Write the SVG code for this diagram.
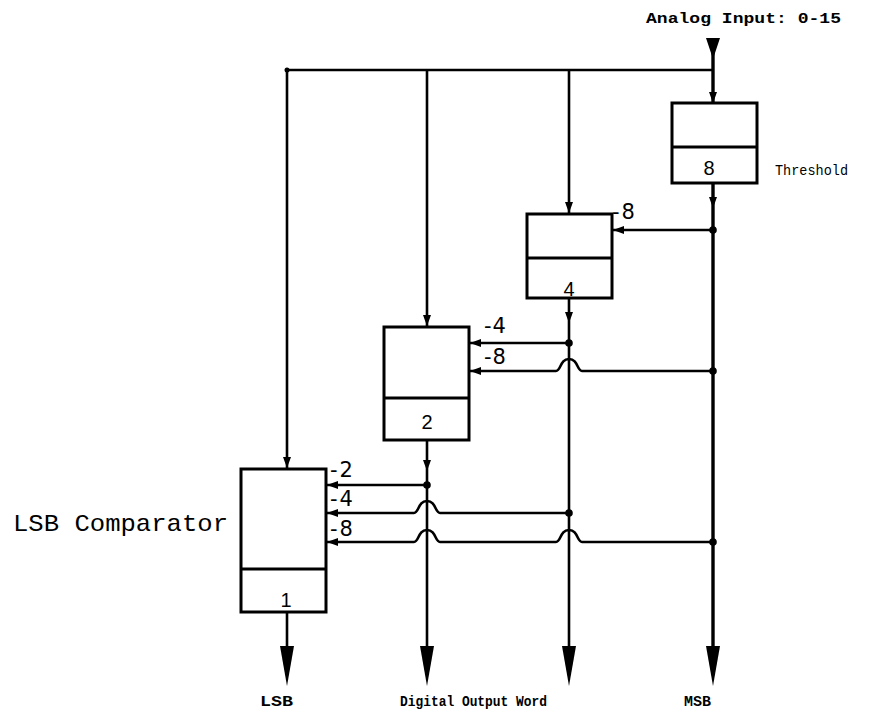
<svg xmlns="http://www.w3.org/2000/svg" width="877" height="712" viewBox="0 0 877 712">
<defs>
<style>
.box{fill:#fff;stroke:#000;stroke-width:3}
.ln{fill:none;stroke:#000;stroke-width:2.6;stroke-linejoin:round}
.thk{stroke-width:3.4}
.ah{fill:#000}
.dot{fill:#000}
.num{font-family:"Liberation Sans","DejaVu Sans",sans-serif;font-size:20px;fill:#000}
.lbl{font-family:"DejaVu Sans","Liberation Sans",sans-serif;font-size:21px;fill:#000}
.mono{font-family:"Liberation Mono","DejaVu Sans Mono",monospace;font-weight:bold;font-size:14px;fill:#000}
.thr{font-family:"Liberation Mono","DejaVu Sans Mono",monospace;font-size:15px;fill:#000}
.big{font-family:"Liberation Mono","DejaVu Sans Mono",monospace;font-size:24px;fill:#000}
</style>
<path id="ad" d="M0,0 L-4,-11 L4,-11 Z"/>
<path id="al" d="M0,0 L11,-4 L11,4 Z"/>
<path id="abig" d="M0,0 L-7,-40 L7,-40 Z"/>
</defs>

<g id="connectors">
  <path class="ln" d="M287,70 L713,70"/>
  <path class="ln thk" d="M713,38 L713,103"/>
  <path class="ah" d="M713,59 L706,38 L720,38 Z"/>
  <use href="#ad" x="713" y="103"/>
  <path class="ln" d="M287,70 L287,469"/>
  <use href="#ad" x="287" y="468"/>
  <path class="ln" d="M427,70 L427,327"/>
  <use href="#ad" x="427" y="326"/>
  <path class="ln" d="M569,70 L569,214"/>
  <use href="#ad" x="569" y="213"/>
  <circle class="dot" cx="287" cy="70" r="2.5"/>

  <path class="ln thk" d="M713,183 L713,648"/>
  <use href="#ad" x="713" y="208"/>
  <use href="#abig" x="713" y="686"/>
  <path class="ln" d="M569,298 L569,648"/>
  <use href="#ad" x="569" y="323"/>
  <use href="#abig" x="569" y="686"/>
  <path class="ln" d="M427,440 L427,648"/>
  <use href="#ad" x="427" y="471"/>
  <use href="#abig" x="427" y="686"/>
  <path class="ln" d="M287,612 L287,648"/>
  <use href="#abig" x="287" y="686"/>

  <path class="ln" d="M713,230 L613,230"/>
  <use href="#al" x="613" y="230"/>
  <circle class="dot" cx="713" cy="230" r="3.8"/>

  <path class="ln" d="M569,343 L470,343"/>
  <use href="#al" x="470" y="343"/>
  <circle class="dot" cx="569" cy="343" r="3.8"/>
  <path class="ln" d="M713,371 L582,371 C577,371 578,359 569,359 C560,359 561,371 556,371 L470,371"/>
  <use href="#al" x="470" y="371"/>
  <circle class="dot" cx="713" cy="371" r="3.8"/>

  <path class="ln" d="M427,485 L327,485"/>
  <use href="#al" x="327" y="485"/>
  <circle class="dot" cx="427" cy="485" r="3.8"/>
  <path class="ln" d="M569,513 L440,513 C435,513 436,501 427,501 C418,501 419,513 414,513 L327,513"/>
  <use href="#al" x="327" y="513"/>
  <circle class="dot" cx="569" cy="513" r="3.8"/>
  <path class="ln" d="M713,542 L582,542 C577,542 578,530 569,530 C560,530 561,542 556,542 L440,542 C435,542 436,530 427,530 C418,530 419,542 414,542 L327,542"/>
  <use href="#al" x="327" y="542"/>
  <circle class="dot" cx="713" cy="542" r="3.8"/>
</g>

<g id="node-threshold">
  <rect class="box" x="672" y="103" width="85" height="80"/>
  <line class="box" x1="672" y1="147" x2="757" y2="147"/>
  <text class="num" x="709" y="175" text-anchor="middle">8</text>
  <text class="thr" x="775" y="175" textLength="73" lengthAdjust="spacingAndGlyphs">Threshold</text>
</g>

<g id="node-4">
  <rect class="box" x="527" y="214" width="85" height="84"/>
  <line class="box" x1="527" y1="258" x2="612" y2="258"/>
  <text class="num" x="569" y="296" text-anchor="middle">4</text>
  <text class="lbl" x="612" y="219">-<tspan dx="2">8</tspan></text>
</g>

<g id="node-2">
  <rect class="box" x="384" y="327" width="85" height="113"/>
  <line class="box" x1="384" y1="398" x2="469" y2="398"/>
  <text class="num" x="427" y="429" text-anchor="middle">2</text>
  <text class="lbl" x="484" y="333">-<tspan dx="1">4</tspan></text>
  <text class="lbl" x="484" y="364">-<tspan dx="1">8</tspan></text>
</g>

<g id="node-1">
  <rect class="box" x="241" y="469" width="85" height="143"/>
  <line class="box" x1="241" y1="569" x2="326" y2="569"/>
  <text class="num" x="286" y="607" text-anchor="middle">1</text>
  <text class="lbl" x="330" y="477">-<tspan dx="2">2</tspan></text>
  <text class="lbl" x="330" y="506">-<tspan dx="2">4</tspan></text>
  <text class="lbl" x="330" y="536">-<tspan dx="2">8</tspan></text>
  <text class="big" x="13" y="531" textLength="215" lengthAdjust="spacingAndGlyphs">LSB Comparator</text>
</g>

<g id="labels">
  <text class="mono" x="646" y="23" textLength="195" lengthAdjust="spacingAndGlyphs">Analog Input: 0-15</text>
  <text class="mono" x="260" y="706" textLength="33" lengthAdjust="spacingAndGlyphs">LSB</text>
  <text class="mono" x="400" y="706" textLength="147" lengthAdjust="spacingAndGlyphs">Digital Output Word</text>
  <text class="mono" x="684" y="706" textLength="27" lengthAdjust="spacingAndGlyphs">MSB</text>
</g>
</svg>
